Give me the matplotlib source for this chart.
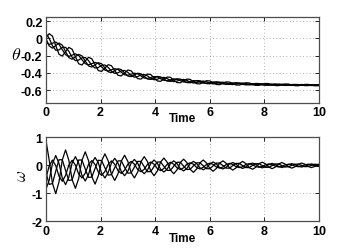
import numpy as np
import matplotlib
matplotlib.use("Agg")
import matplotlib.pyplot as plt

plt.rcParams['font.family'] = ['Liberation Sans', 'DejaVu Sans']
plt.rcParams['axes.unicode_minus'] = False
plt.rcParams['mathtext.fontset'] = 'cm'

# samples every 0.12 s
time = np.round(np.arange(85) * 0.12, 2)

theta1 = [0, .055, .025, -.083, -.185, -.206, -.154, -.105, -.127, -.213, -.295, -.310, -.264, -.220, -.237,
          -.307, -.374, -.384, -.344, -.306, -.318, -.375, -.429, -.436, -.402, -.368, -.377, -.424, -.468,
          -.473, -.443, -.415, -.421, -.459, -.495, -.499, -.473, -.449, -.453, -.484, -.514, -.516, -.494,
          -.473, -.477, -.503, -.527, -.529, -.510, -.492, -.495, -.516, -.536, -.538, -.521, -.506, -.508,
          -.526, -.542, -.543, -.529, -.516, -.518, -.532, -.546, -.546, -.535, -.524, -.526, -.537, -.549,
          -.549, -.539, -.530, -.531, -.541, -.550, -.551, -.542, -.535, -.535, -.543, -.551, -.551, -.544]
theta2 = [0, -.088, -.114, -.083, -.054, -.079, -.154, -.224, -.243, -.213, -.186, -.204, -.264, -.320, -.334,
          -.307, -.283, -.296, -.344, -.389, -.398, -.375, -.353, -.363, -.402, -.438, -.445, -.424, -.405,
          -.412, -.443, -.473, -.477, -.459, -.442, -.448, -.473, -.497, -.500, -.484, -.470, -.473, -.494,
          -.514, -.516, -.503, -.490, -.493, -.510, -.526, -.528, -.516, -.505, -.508, -.521, -.535, -.535,
          -.526, -.516, -.518, -.529, -.540, -.540, -.532, -.524, -.525, -.535, -.544, -.545, -.537, -.531,
          -.532, -.539, -.547, -.547, -.541, -.535, -.536, -.542, -.549, -.549, -.543, -.539, -.539, -.544]
theta3 = [.060, .000, -.085, -.138, -.135, -.105, -.104, -.151, -.219, -.259, -.253, -.226, -.222, -.259, -.314,
          -.345, -.339, -.314, -.309, -.338, -.382, -.407, -.400, -.378, -.373, -.395, -.431, -.451, -.444,
          -.424, -.419, -.437, -.466, -.481, -.475, -.459, -.453, -.467, -.491, -.503, -.497, -.482, -.477,
          -.489, -.508, -.519, -.513, -.501, -.496, -.505, -.521, -.529, -.524, -.514, -.509, -.517, -.530,
          -.537, -.532, -.523, -.519, -.525, -.536, -.541, -.537, -.531, -.527, -.532, -.541, -.545, -.542,
          -.535, -.532, -.537, -.543, -.547, -.544, -.539, -.536, -.540, -.546, -.548, -.547, -.542, -.539]
theta4 = [-.043, -.071, -.057, -.043, -.070, -.131, -.190, -.210, -.195, -.180, -.199, -.248, -.294, -.308, -.294,
          -.279, -.293, -.332, -.369, -.380, -.365, -.352, -.362, -.393, -.423, -.430, -.417, -.405, -.412,
          -.437, -.461, -.466, -.454, -.443, -.448, -.469, -.488, -.491, -.481, -.471, -.475, -.491, -.506,
          -.509, -.500, -.492, -.494, -.508, -.520, -.522, -.514, -.507, -.509, -.520, -.530, -.531, -.524,
          -.518, -.519, -.528, -.536, -.537, -.531, -.526, -.527, -.534, -.541, -.542, -.537, -.532, -.533,
          -.539, -.544, -.545, -.540, -.536, -.537, -.542, -.546, -.547, -.543, -.539, -.540, -.544, -.548]

omega1 = [.90, .19, -.64, -1.01, -.59, .19, .55, .18, -.51, -.82, -.47, .18, .48, .17, -.40, -.67, -.37, .16,
          .41, .16, -.32, -.54, -.30, .15, .36, .14, -.26, -.45, -.24, .13, .31, .13, -.21, -.37, -.20, .12,
          .26, .11, -.17, -.30, -.16, .10, .22, .10, -.14, -.25, -.13, .09, .19, .08, -.11, -.21, -.11, .08,
          .16, .07, -.09, -.17, -.09, .06, .14, .06, -.08, -.14, -.07, .06, .11, .05, -.06, -.12, -.06, .05,
          .10, .04, -.05, -.10, -.05, .04, .08, .04, -.04, -.08, -.04, .03, .07]
omega2 = [-.86, -.53, .06, .35, .07, -.45, -.69, -.42, .08, .31, .08, -.36, -.56, -.33, .08, .28, .09, -.28,
          -.45, -.26, .08, .25, .08, -.22, -.37, -.21, .08, .21, .08, -.18, -.30, -.17, .07, .19, .07, -.14,
          -.24, -.13, .07, .16, .06, -.12, -.20, -.11, .06, .14, .06, -.09, -.16, -.09, .05, .12, .05, -.08,
          -.13, -.07, .05, .10, .04, -.06, -.11, -.06, .04, .08, .04, -.05, -.09, -.05, .03, .07, .03, -.04,
          -.08, -.04, .03, .06, .03, -.03, -.06, -.03, .02, .05, .02, -.03, -.05]
omega3 = [-.25, -.68, -.65, -.21, .20, .20, -.18, -.54, -.52, -.15, .19, .19, -.13, -.43, -.42, -.11, .18, .17,
          -.09, -.35, -.33, -.08, .16, .16, -.07, -.28, -.27, -.06, .14, .14, -.05, -.23, -.22, -.04, .12, .12,
          -.04, -.18, -.18, -.03, .11, .11, -.03, -.15, -.14, -.02, .09, .09, -.02, -.12, -.12, -.02, .08, .08,
          -.01, -.10, -.10, -.01, .07, .07, -.01, -.08, -.08, -.01, .06, .06, -.01, -.07, -.07, -.01, .05, .05,
          -.01, -.06, -.05, .00, .04, .04, .00, -.05, -.04, .00, .04, .03, .00]
omega4 = [-.47, -.02, .19, -.01, -.39, -.57, -.36, .01, .18, .01, -.31, -.45, -.28, .03, .17, .03, -.24, -.36,
          -.22, .03, .16, .04, -.19, -.29, -.17, .04, .14, .04, -.15, -.23, -.14, .04, .12, .04, -.12, -.19,
          -.11, .04, .11, .04, -.09, -.15, -.09, .04, .09, .04, -.08, -.13, -.07, .03, .08, .03, -.06, -.10,
          -.06, .03, .07, .03, -.05, -.08, -.05, .03, .06, .02, -.04, -.07, -.04, .02, .05, .02, -.03, -.06,
          -.03, .02, .04, .02, -.03, -.05, -.03, .02, .04, .02, -.02, -.04, -.02]

x_ticks = [0, 2, 4, 6, 8, 10]
theta_ticks = [-0.6, -0.4, -0.2, 0, 0.2]
omega_ticks = [-2, -1, 0, 1]

fig = plt.figure(figsize=(3.53, 2.51), dpi=100)
ax1 = fig.add_axes([0.130, 0.586, 0.774, 0.343])
ax2 = fig.add_axes([0.130, 0.114, 0.774, 0.335])


def style(ax, label_y):
    ax.set_xlim(0, 10)
    ax.set_xticks(x_ticks)
    ax.set_xticklabels([str(v) for v in x_ticks])
    ax.grid(True, linestyle=(0, (1, 3)), color='0.6', linewidth=0.6)
    ax.tick_params(direction='in', length=3, width=0.6, top=True, right=True,
                   labelsize=9, pad=2.5)
    for lab in ax.get_xticklabels() + ax.get_yticklabels():
        lab.set_fontweight('bold')
    for s in ax.spines.values():
        s.set_linewidth(0.9)
        s.set_color('0.3')
    ax.set_xlabel('Time', fontsize=8.5, fontweight='bold')
    ax.xaxis.set_label_coords(0.5, label_y)


for th in [theta1, theta2, theta3, theta4]:
    ax1.plot(time, th, color='black', linewidth=0.9)
ax1.set_ylim(-0.75, 0.25)
ax1.set_yticks(theta_ticks)
ax1.set_yticklabels(['-0.6', '-0.4', '-0.2', '0', '0.2'])
style(ax1, -0.105)
ax1.set_ylabel(r'$\theta$', fontsize=13, rotation=0, va='center', ha='center')
ax1.yaxis.set_label_coords(-0.11, 0.56)

for om in [omega1, omega2, omega3, omega4]:
    ax2.plot(time, om, color='black', linewidth=0.9)
ax2.set_ylim(-2, 1)
ax2.set_yticks(omega_ticks)
ax2.set_yticklabels(['-2', '-1', '0', '1'])
style(ax2, -0.125)
ax2.set_ylabel(r'$\omega$', fontsize=12, va='center')
ax2.yaxis.set_label_coords(-0.09, 0.55)

fig.savefig('out.png', dpi=100)
